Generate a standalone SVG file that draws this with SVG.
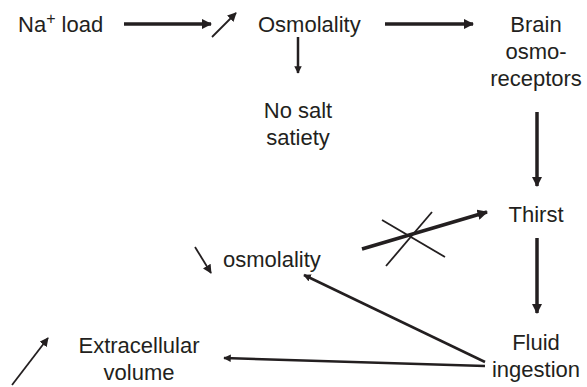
<svg xmlns="http://www.w3.org/2000/svg" width="587" height="387" viewBox="0 0 587 387">
<defs>
<style>
text{font-family:"Liberation Sans",Arial,sans-serif;font-size:22px;fill:#231f20}
.thick{stroke:#231f20;stroke-width:3.5;fill:none}
.med{stroke:#231f20;stroke-width:2.5;fill:none}
.thin{stroke:#231f20;stroke-width:1.8;fill:none}
</style>
<marker id="ah" viewBox="0 0 10 10" refX="9" refY="5" markerWidth="3" markerHeight="3" markerUnits="strokeWidth" orient="auto"><path d="M0,0L10,5L0,10z" fill="#231f20"/></marker>
<marker id="ahs" viewBox="0 0 10 10" refX="9" refY="5" markerWidth="5" markerHeight="5" markerUnits="strokeWidth" orient="auto"><path d="M0,0L10,5L0,10z" fill="#231f20"/></marker>
</defs>
<rect width="587" height="387" fill="#fff"/>
<g id="na-load"><text x="18" y="32">Na<tspan dy="-8" font-size="16">+</tspan><tspan dy="8"> load</tspan></text></g>
<g id="up-osmolality"><text x="258" y="32">Osmolality</text></g>
<g id="no-salt-satiety"><text x="298" y="118" text-anchor="middle">No salt</text><text x="298" y="145" text-anchor="middle">satiety</text></g>
<g id="brain-osmoreceptors"><text x="536" y="32" text-anchor="middle">Brain</text><text x="536" y="59" text-anchor="middle">osmo-</text><text x="536" y="86" text-anchor="middle">receptors</text></g>
<g id="thirst"><text x="536" y="222" text-anchor="middle">Thirst</text></g>
<g id="down-osmolality"><text x="223" y="267">osmolality</text></g>
<g id="fluid-ingestion"><text x="536" y="350" text-anchor="middle">Fluid</text><text x="536" y="377" text-anchor="middle">ingestion</text></g>
<g id="extracellular-volume"><text x="139" y="353" text-anchor="middle">Extracellular</text><text x="139" y="380" text-anchor="middle">volume</text></g>
<g id="connectors">
<line class="thick" x1="124" y1="24" x2="211" y2="24" marker-end="url(#ah)"/>
<line class="thin" x1="212" y1="37" x2="236" y2="13" marker-end="url(#ahs)"/>
<line class="med" x1="298" y1="37" x2="298" y2="73" marker-end="url(#ah)"/>
<line class="thick" x1="385" y1="24" x2="473" y2="24" marker-end="url(#ah)"/>
<line class="thick" x1="537" y1="112" x2="537" y2="186" marker-end="url(#ah)"/>
<line class="thick" x1="362" y1="249" x2="487" y2="212" marker-end="url(#ah)"/>
<line class="thin" x1="382" y1="220" x2="445" y2="257"/>
<line class="thin" x1="386" y1="266" x2="432" y2="212"/>
<line class="thin" x1="195" y1="247" x2="211" y2="273" marker-end="url(#ahs)"/>
<line class="thick" x1="537" y1="238" x2="537" y2="313" marker-end="url(#ah)"/>
<line class="med" x1="485" y1="362" x2="304" y2="275" marker-end="url(#ah)"/>
<line class="med" x1="485" y1="366" x2="224" y2="358" marker-end="url(#ah)"/>
<line class="thin" x1="12" y1="385" x2="48" y2="338" marker-end="url(#ahs)"/>
</g>
</svg>
